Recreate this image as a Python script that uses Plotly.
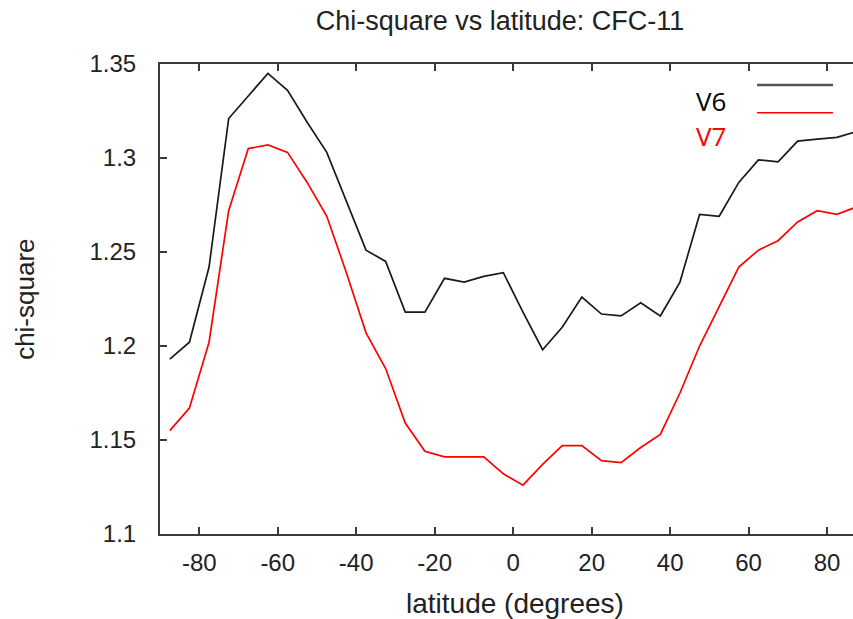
import plotly.graph_objects as go

# Zonal-mean chi-square of the CFC-11 retrieval, 5-degree latitude bins
latitude = [-87.5, -82.5, -77.5, -72.5, -67.5, -62.5, -57.5, -52.5, -47.5, -42.5,
            -37.5, -32.5, -27.5, -22.5, -17.5, -12.5, -7.5, -2.5, 2.5, 7.5,
            12.5, 17.5, 22.5, 27.5, 32.5, 37.5, 42.5, 47.5, 52.5, 57.5,
            62.5, 67.5, 72.5, 77.5, 82.5, 87.5]

chi_v6 = [1.193, 1.202, 1.242, 1.321, 1.333, 1.345, 1.336, 1.319, 1.303, 1.277,
          1.251, 1.245, 1.218, 1.218, 1.236, 1.234, 1.237, 1.239, 1.218, 1.198,
          1.210, 1.226, 1.217, 1.216, 1.223, 1.216, 1.234, 1.270, 1.269, 1.287,
          1.299, 1.298, 1.309, 1.310, 1.311, 1.314]

chi_v7 = [1.155, 1.167, 1.202, 1.272, 1.305, 1.307, 1.303, 1.287, 1.269, 1.239,
          1.207, 1.188, 1.159, 1.144, 1.141, 1.141, 1.141, 1.132, 1.126, 1.137,
          1.147, 1.147, 1.139, 1.138, 1.146, 1.153, 1.175, 1.200, 1.221, 1.242,
          1.251, 1.256, 1.266, 1.272, 1.270, 1.274]

x_ticks = [-80, -60, -40, -20, 0, 20, 40, 60, 80]
x_tick_text = ["-80", "-60", "-40", "-20", "0", "20", "40", "60", "80"]
y_ticks = [1.1, 1.15, 1.2, 1.25, 1.3, 1.35]
y_tick_text = ["1.1", "1.15", "1.2", "1.25", "1.3", "1.35"]

series = [
    ("V6", chi_v6, "#1a1a1a", "#000000", "#555555", 2.6, 0.9553, 0.9223),
    ("V7", chi_v7, "#ff0000", "#ff0000", "#ff0000", 1.6, 0.8964, 0.8468),
]

FONT = "Liberation Sans, Arial, Helvetica, sans-serif"
INK = "#222222"
AXIS = "#3a3a3a"

fig = go.Figure()
for name, values, color, *_ in series:
    fig.add_trace(go.Scatter(
        x=latitude, y=values, mode="lines", name=name,
        line=dict(color=color, width=1.7), showlegend=False,
    ))

# Key: label on the left, line sample on the right
for name, _, _, text_color, key_color, key_width, line_y, text_y in series:
    fig.add_shape(type="line", xref="paper", yref="paper",
                  x0=0.8615, x1=0.9711, y0=line_y, y1=line_y,
                  line=dict(color=key_color, width=key_width))
    fig.add_annotation(xref="paper", yref="paper", x=0.8196, y=text_y,
                       xanchor="right", yanchor="middle", text=name,
                       showarrow=False,
                       font=dict(family="Open Sans, Noto Sans, sans-serif",
                                 size=26, color=text_color))

# Axis titles
fig.add_annotation(xref="paper", yref="paper", x=-0.195, y=0.5,
                   xanchor="center", yanchor="middle", textangle=-90,
                   text="chi-square", showarrow=False,
                   font=dict(family=FONT, size=26, color=INK))
fig.add_annotation(xref="x", yref="paper", x=0.5, y=-0.147,
                   xanchor="center", yanchor="middle",
                   text="latitude (degrees)", showarrow=False,
                   font=dict(family=FONT, size=28, color=INK))

fig.update_layout(
    width=853, height=619,
    margin=dict(l=160, r=0, t=64, b=85),
    paper_bgcolor="white", plot_bgcolor="white",
    title=dict(text="Chi-square vs latitude: CFC-11", x=500 / 853, y=1 - 21 / 619,
               xanchor="center", yanchor="middle", xref="container", yref="container",
               font=dict(family=FONT, size=27, color=INK)),
    xaxis=dict(range=[-90, 86.6], tickvals=x_ticks, ticktext=x_tick_text,
               ticks="inside", ticklen=7, ticklabelstandoff=6,
               tickwidth=1.5, tickcolor=AXIS, showline=True, linecolor=AXIS,
               linewidth=2, mirror="ticks", showgrid=False, zeroline=False,
               tickfont=dict(family=FONT, size=24, color=INK)),
    yaxis=dict(range=[1.1, 1.35], tickvals=y_ticks, ticktext=y_tick_text,
               ticks="inside", ticklen=7, ticklabelstandoff=17,
               tickwidth=1.5, tickcolor=AXIS,
               showline=True, linecolor=AXIS, linewidth=2, mirror=False,
               showgrid=False, zeroline=False,
               tickfont=dict(family=FONT, size=24, color=INK)),
)

fig.write_html("out.html")
